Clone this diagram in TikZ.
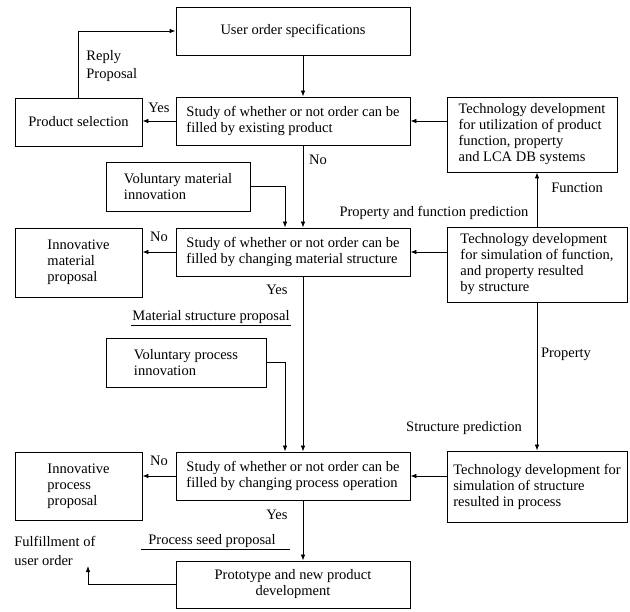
\documentclass[tikz,border=0pt]{standalone}
\usepackage{fontspec}
\setmainfont{Liberation Serif}
\usetikzlibrary{arrows.meta}

\begin{document}
\begin{tikzpicture}[x=1pt,y=-1pt,
    font=\fontsize{14.5}{16}\selectfont,
    >={Latex[length=6pt,width=4.5pt]},
    line width=0.8pt,
    blk/.style={draw,align=left,inner sep=0pt},
    lbl/.style={inner sep=1pt,align=left}]
    \useasboundingbox (0,0) rectangle (630,612);

    % boxes
    \node[blk,minimum width=234,minimum height=48] (order) at (293,31) {User order specifications};
    \node[blk,minimum width=234,minimum height=48] (study1) at (293,121)
        {Study of whether or not order can be\\filled by existing product};
    \node[blk,minimum width=127,minimum height=48] (select) at (78.5,122) {Product selection};
    \node[blk,minimum width=170,minimum height=75] (tech1) at (532,134.5)
        {Technology development\\for utilization of product\\function, property\\and LCA DB systems};
    \node[blk,minimum width=144,minimum height=49] (volmat) at (178,186.5)
        {Voluntary material\\innovation};
    \node[blk,minimum width=234,minimum height=48] (study2) at (293,252)
        {Study of whether or not order can be\\filled by changing material structure};
    \node[blk,minimum width=127,minimum height=69] (innmat) at (78.5,262.5)
        {Innovative\\material\\proposal};
    \node[blk,minimum width=180,minimum height=75] (tech2) at (537,264.5)
        {Technology development\\for simulation of function,\\and property resulted\\by structure};
    \node[blk,minimum width=160,minimum height=49] (volproc) at (186,362.5)
        {Voluntary process\\innovation};
    \node[blk,minimum width=234,minimum height=48] (study3) at (293,476)
        {Study of whether or not order can be\\filled by changing process operation};
    \node[blk,minimum width=127,minimum height=68] (innproc) at (78.5,486)
        {Innovative\\process\\proposal};
    \node[blk,minimum width=180,minimum height=71] (tech3) at (537,486.5)
        {Technology development for\\simulation of structure\\resulted in process};
    \node[blk,minimum width=234,minimum height=47,align=center] (proto) at (293,584.5)
        {Prototype and new product\\development};

    % labels
    \node[lbl,anchor=north west,font=\fontsize{14.5}{18}\selectfont] (reply) at (85,49) {Reply\\Proposal};
    \node[lbl] (yes1) at (159,108) {Yes};
    \node[lbl] (no1) at (318,160) {No};
    \node[lbl,anchor=west] (func) at (550,188) {Function};
    \node[lbl] (pfpred) at (434,213) {Property and function prediction};
    \node[lbl] (no2) at (159,237) {No};
    \node[lbl] (yes2) at (277,290) {Yes};
    \node[lbl] (matlbl) at (211,317) {Material structure proposal};
    \node[lbl] (prop) at (566,354) {Property};
    \node[lbl] (strpred) at (464,428) {Structure prediction};
    \node[lbl] (no3) at (159,461) {No};
    \node[lbl] (yes3) at (277,515) {Yes};
    \node[lbl] (seedlbl) at (212,541) {Process seed proposal};
    \node[lbl,anchor=north west,font=\fontsize{14.5}{19}\selectfont] (fulfil) at (13,535) {Fulfillment of\\user order};

    \coordinate (col) at (303,0);
    \coordinate (col2) at (285,0);
    \coordinate (fulend) at (88,566);

    % underlines
    \draw (matlbl.south west) -- (matlbl.south east);
    \draw ([xshift=-6pt]seedlbl.south west) -- ([xshift=13pt]seedlbl.south east);

    % connectors
    \draw[->] (order.south -| col) -- (study1.north -| col);
    \draw[->] (study1.west) -- (select.east |- study1.west);
    \draw[->] (select.north) -- (select.north |- order.west) -- (order.west);
    \draw[->] (tech1.west |- study1.east) -- (study1.east);
    \draw[->] (tech2.north) -- (tech1.south -| tech2.north);
    \draw[->] (study1.south -| col) -- (study2.north -| col);
    \draw[->] (volmat.east) -| (col2 |- study2.north);
    \draw[->] (study2.west) -- (innmat.east |- study2.west);
    \draw[->] (tech2.west |- study2.east) -- (study2.east);
    \draw[->] (study2.south -| col) -- (study3.north -| col);
    \draw[->] (volproc.east) -| (col2 |- study3.north);
    \draw[->] (tech2.south) -- (tech3.north);
    \draw[->] (study3.west) -- (innproc.east |- study3.west);
    \draw[->] (tech3.west |- study3.east) -- (study3.east);
    \draw[->] (study3.south -| col) -- (proto.north -| col);
    \draw[->] (proto.west) -| (fulend);
\end{tikzpicture}
\end{document}
